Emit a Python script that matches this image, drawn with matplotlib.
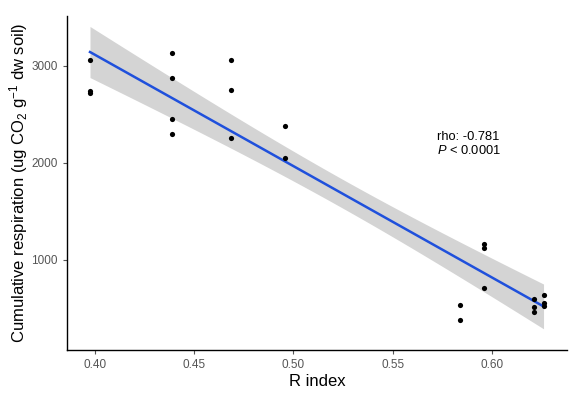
import numpy as np
import matplotlib
matplotlib.use("Agg")
import matplotlib.pyplot as plt

plt.rcParams['font.family'] = ['Liberation Sans', 'DejaVu Sans']
plt.rcParams['mathtext.fontset'] = 'custom'
plt.rcParams['mathtext.rm'] = 'Liberation Sans'
plt.rcParams['mathtext.it'] = 'Liberation Sans:italic'

# R index and cumulative respiration
r_index = [0.3975, 0.3975, 0.3975,
           0.439, 0.439, 0.439, 0.439,
           0.4685, 0.4685, 0.4685,
           0.4957, 0.4957,
           0.584, 0.584,
           0.596, 0.596, 0.596,
           0.621, 0.621, 0.621,
           0.626, 0.626, 0.626]
respiration = [3062, 2745, 2718,
               3131, 2880, 2450, 2299,
               3062, 2756, 2262,
               2381, 2048,
               540, 385,
               1162, 1121, 714,
               600, 520, 460,
               640, 560, 525]
x_ticks = [0.40, 0.45, 0.50, 0.55, 0.60]
y_ticks = [1000, 2000, 3000]

x = np.array(r_index)
y = np.array(respiration)

# linear fit with 95% confidence band (like geom_smooth(method = "lm"))
n = len(x)
b, a = np.polyfit(x, y, 1)
xs = np.linspace(x.min(), x.max(), 100)
ys = a + b * xs
resid = y - (a + b * x)
s = np.sqrt(np.sum(resid ** 2) / (n - 2))
t = 2.080  # t(0.975, df=21)
se = s * np.sqrt(1 / n + (xs - x.mean()) ** 2 / np.sum((x - x.mean()) ** 2))

fig = plt.figure(figsize=(5.8, 3.93), dpi=100)
ax = fig.add_axes([0.1155, 0.1094, 0.862, 0.85])

ax.fill_between(xs, ys - t * se, ys + t * se, color='#d4d4d4', lw=0, zorder=1)
ax.plot(xs, ys, color='#1f50dc', lw=1.8, zorder=2)
ax.scatter(x, y, s=14, color='black', zorder=3, linewidths=0)

ax.set_xlim(0.3859, 0.6378)
ax.set_ylim(72, 3515)
ax.set_xticks(x_ticks)
ax.set_xticklabels(['%.2f' % v for v in x_ticks])
ax.set_yticks(y_ticks)

for side in ['top', 'right']:
    ax.spines[side].set_visible(False)
for side in ['left', 'bottom']:
    ax.spines[side].set_linewidth(1.0)
ax.tick_params(colors='#555555', labelsize=8.5, length=3, width=0.8)

ax.set_xlabel('R index', fontsize=12, labelpad=2)
ax.set_ylabel('Cumulative respiration (ug CO$_2$ g$^{-1}$ dw soil)', fontsize=12, labelpad=1)

ax.text(0.5723, 2060, 'rho: -0.781\n$P$ < 0.0001', fontsize=9.3, va='bottom', ha='left',
        linespacing=1.1)

fig.savefig('out.png', dpi=100)
